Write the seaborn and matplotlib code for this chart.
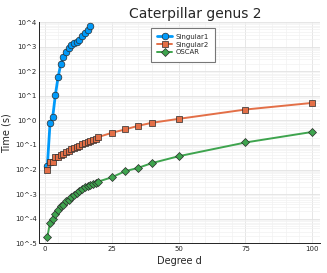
import matplotlib
matplotlib.use("Agg")
import numpy as np
import pandas as pd
import matplotlib.pyplot as plt
import seaborn as sns
from matplotlib.ticker import FixedLocator, LogLocator, MultipleLocator, NullFormatter
from matplotlib.lines import Line2D

# ---- data (log10 of time in seconds) ----
degrees_s1 = list(range(1, 18))
log_time_s1 = [-1.85, -0.12, 0.13, 1.04, 1.75, 2.28, 2.59, 2.79, 2.95, 3.08,
               3.14, 3.17, 3.27, 3.43, 3.56, 3.67, 3.85]

degrees_s2 = list(range(1, 21)) + [25, 30, 35, 40, 50, 75, 100]
log_time_s2 = [-2.0, -1.69, -1.68, -1.50, -1.47, -1.40, -1.35, -1.30, -1.23, -1.18,
               -1.13, -1.08, -1.03, -0.98, -0.93, -0.88, -0.83, -0.79, -0.74, -0.68,
               -0.51, -0.37, -0.22, -0.10, 0.06, 0.44, 0.71]

degrees_oscar = list(range(1, 21)) + [25, 30, 35, 40, 50, 75, 100]
log_time_oscar = [-4.74, -4.16, -4.00, -3.79, -3.65, -3.49, -3.45, -3.29, -3.25, -3.11,
                  -3.04, -2.95, -2.87, -2.79, -2.73, -2.68, -2.62, -2.58, -2.54, -2.49,
                  -2.32, -2.07, -1.93, -1.74, -1.46, -0.90, -0.47]

series_names = ["Singular1", "Singular2", "OSCAR"]
colors = ["#009AFA", "#E36F47", "#3EA44E"]
markers = ["o", "s", "D"]

y_tick_exps = [-5, -4, -3, -2, -1, 0, 1, 2, 3, 4]
y_tick_labels = [f"10^{e}" for e in y_tick_exps]
x_ticks = [0, 25, 50, 75, 100]

title = "Caterpillar genus 2"
xlabel = "Degree d"
ylabel = "Time (s)"

# ---- build frame ----
frames = []
for name, d, lt in [("Singular1", degrees_s1, log_time_s1),
                    ("Singular2", degrees_s2, log_time_s2),
                    ("OSCAR", degrees_oscar, log_time_oscar)]:
    frames.append(pd.DataFrame({"d": d, "time": 10.0 ** np.array(lt), "solver": name}))
df = pd.concat(frames, ignore_index=True)

sns.set_style("white")
plt.rcParams["font.family"] = ["DejaVu Sans"]

fig = plt.figure(figsize=(3.27, 2.73), dpi=100)
ax = fig.add_axes([0.1205, 0.1088, 0.859, 0.8106])

lws = [2.0, 1.4, 1.4]
msz = [4.8, 4.8, 4.0]
for name, c, m, lw, ms in zip(series_names, colors, markers, lws, msz):
    sns.lineplot(data=df[df.solver == name], x="d", y="time", color=c, marker=m,
                 markersize=ms, markeredgecolor="#2a2a2a", markeredgewidth=0.5,
                 linewidth=lw, ax=ax, legend=False, zorder=3)

ax.set_yscale("log")
ax.set_xlim(-1.97, 102.97)
ax.set_ylim(1e-5, 1e4)

ax.yaxis.set_major_locator(FixedLocator([10.0 ** e for e in y_tick_exps]))
ax.set_yticklabels(y_tick_labels)
ax.yaxis.set_minor_locator(LogLocator(base=10, subs=np.arange(2, 10), numticks=20))
ax.yaxis.set_minor_formatter(NullFormatter())
ax.xaxis.set_major_locator(FixedLocator(x_ticks))
ax.xaxis.set_minor_locator(MultipleLocator(5))

ax.tick_params(which="major", direction="in", length=3.5, width=0.6, labelsize=5,
               color="#222222", pad=2)
ax.tick_params(which="minor", direction="in", length=1.8, width=0.5, color="#222222")

ax.grid(True, which="major", color="#e2e2e2", linewidth=0.6)
ax.grid(True, which="minor", color="#f1f1f1", linewidth=0.5)
ax.set_axisbelow(True)

for s in ["top", "right"]:
    ax.spines[s].set_visible(False)
for s in ["left", "bottom"]:
    ax.spines[s].set_color("#222222")
    ax.spines[s].set_linewidth(0.7)

ax.set_title(title, fontsize=10, x=0.554, y=1.0, pad=3)
ax.set_xlabel(xlabel, fontsize=7, labelpad=3)
ax.set_ylabel(ylabel, fontsize=7, labelpad=2)

handles = [Line2D([0], [0], color=c, marker=m, markersize=ms, markeredgecolor="#2a2a2a",
                  markeredgewidth=0.5, linewidth=lw)
           for c, m, lw, ms in zip(colors, markers, lws, msz)]
leg = ax.legend(handles, series_names, loc="upper left", bbox_to_anchor=(0.397, 0.975),
                fontsize=5, frameon=True, fancybox=False, framealpha=1,
                edgecolor="#777777", handlelength=2.2, handletextpad=0.4,
                borderpad=0.9, labelspacing=0.25, borderaxespad=0)
leg.get_frame().set_linewidth(0.8)

fig.savefig("out.png", dpi=100)
